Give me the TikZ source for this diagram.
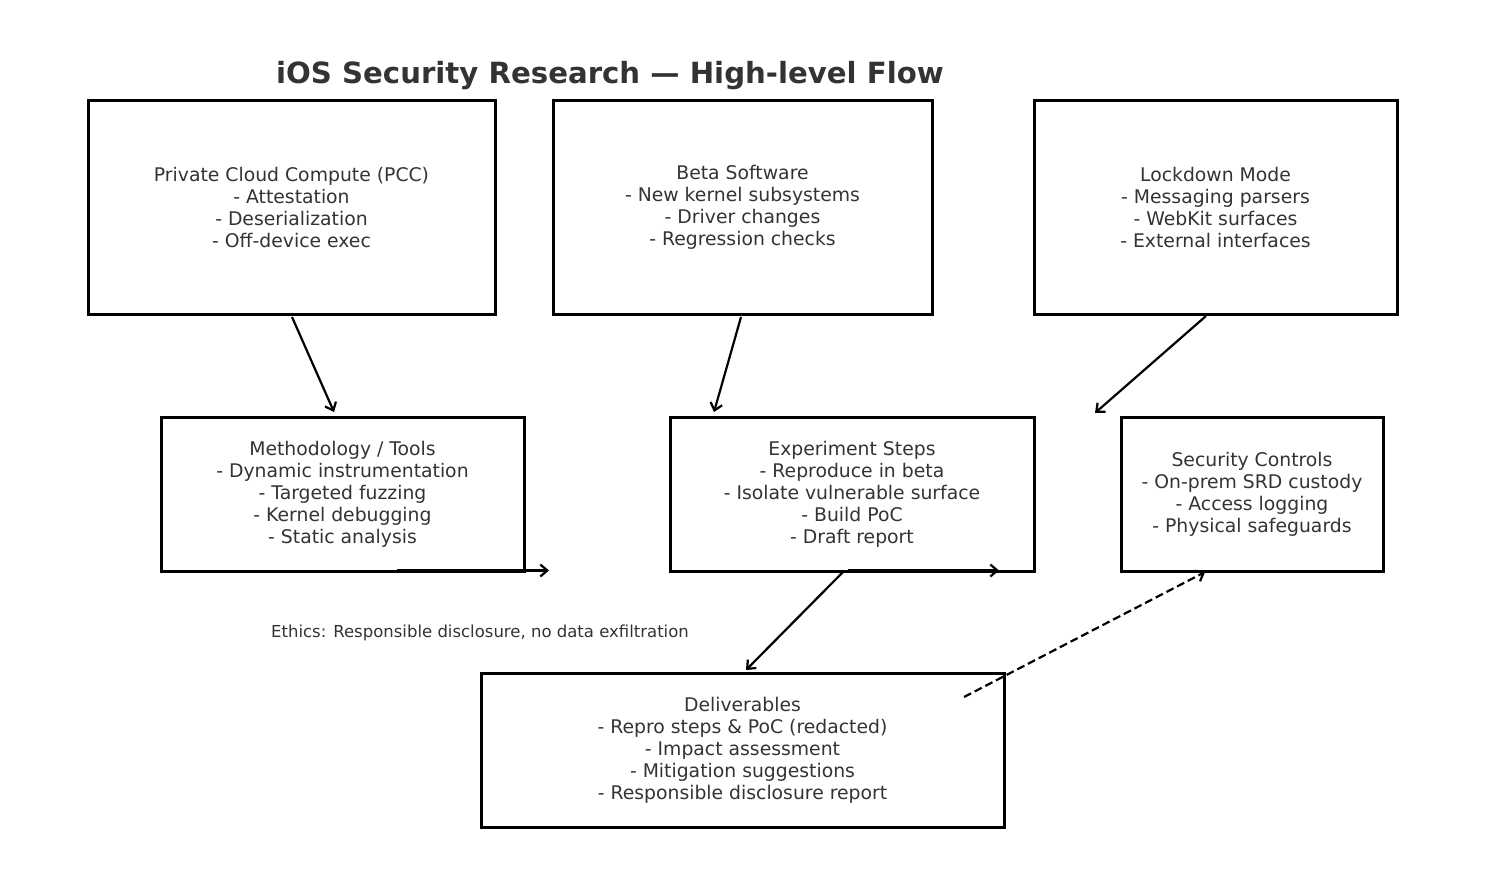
\documentclass[tikz,border=0pt]{standalone}
\usepackage{fontspec}
\setmainfont{DejaVu Sans}
\usetikzlibrary{arrows.meta}
\definecolor{txt}{HTML}{333333}
\begin{document}
\begin{tikzpicture}[x=1pt,y=-1pt,
  box/.style={draw=black,line width=3pt,text=txt,align=center,inner sep=0pt,outer sep=0pt,
    font=\fontsize{18.8}{22}\selectfont},
  conn/.style={line width=2.2pt,-{Straight Barb[length=7pt,width=12pt,line width=2.2pt]}},
  dconn/.style={conn,dash pattern=on 8pt off 4pt}]
\useasboundingbox (0,0) rectangle (1485,885);
\node[text=txt,font=\fontsize{29.2}{35}\bfseries\selectfont] (title) at (610,76) {iOS Security Research — High-level Flow};
\node[box,minimum width=407pt,minimum height=213pt] (pcc) at (291.5,207.5)
 {Private Cloud Compute (PCC)\\- Attestation\\- Deserialization\\- Off-device exec};
\node[box,minimum width=379pt,minimum height=213pt] (beta) at (742.5,207.5)
 {Beta Software\\- New kernel subsystems\\- Driver changes\\- Regression checks};
\node[box,minimum width=363pt,minimum height=213pt] (lock) at (1215.5,207.5)
 {Lockdown Mode\\- Messaging parsers\\- WebKit surfaces\\- External interfaces};
\node[box,minimum width=363pt,minimum height=154pt] (meth) at (342.5,494)
 {Methodology / Tools\\- Dynamic instrumentation\\- Targeted fuzzing\\- Kernel debugging\\- Static analysis};
\node[box,minimum width=364pt,minimum height=154pt] (exp) at (852,494)
 {Experiment Steps\\- Reproduce in beta\\- Isolate vulnerable surface\\- Build PoC\\- Draft report};
\node[box,minimum width=262pt,minimum height=154pt] (sec) at (1252,494)
 {Security Controls\\- On-prem SRD custody\\- Access logging\\- Physical safeguards};
\node[box,minimum width=523pt,minimum height=154pt] (del) at (742.5,750)
 {Deliverables\\- Repro steps \& PoC (redacted)\\- Impact assessment\\- Mitigation suggestions\\- Responsible disclosure report};
\node[text=txt,font=\fontsize{16.5}{20}\selectfont,anchor=west,inner sep=0pt] (ethics) at (271,633)
 {Ethics: Responsible disclosure, no data exfiltration};
\coordinate (lockend) at (1095,413);
\coordinate (methend) at (549,570.5);
\coordinate (expend) at (999,570.5);
\draw[conn] ([xshift=0.5pt,yshift=-3pt]pcc.south) -- ([xshift=-8.5pt,yshift=5pt]meth.north);
\draw[conn] ([xshift=-1.5pt,yshift=-3pt]beta.south) -- ([xshift=-138pt,yshift=5pt]exp.north);
\draw[conn] ([xshift=-9.5pt,yshift=-2pt]lock.south) -- (lockend);
\draw[conn] ([xshift=54.5pt,yshift=0.5pt]meth.south) -- (methend);
\draw[conn] ([xshift=-4pt,yshift=0.5pt]exp.south) -- (expend);
\draw[conn] ([xshift=-9pt,yshift=-1pt]exp.south) -- ([xshift=3.5pt,yshift=3pt]del.north);
\draw[dconn] ([xshift=221.5pt,yshift=-24pt]del.north) -- ([xshift=-47pt,yshift=-1pt]sec.south);
\end{tikzpicture}
\end{document}
